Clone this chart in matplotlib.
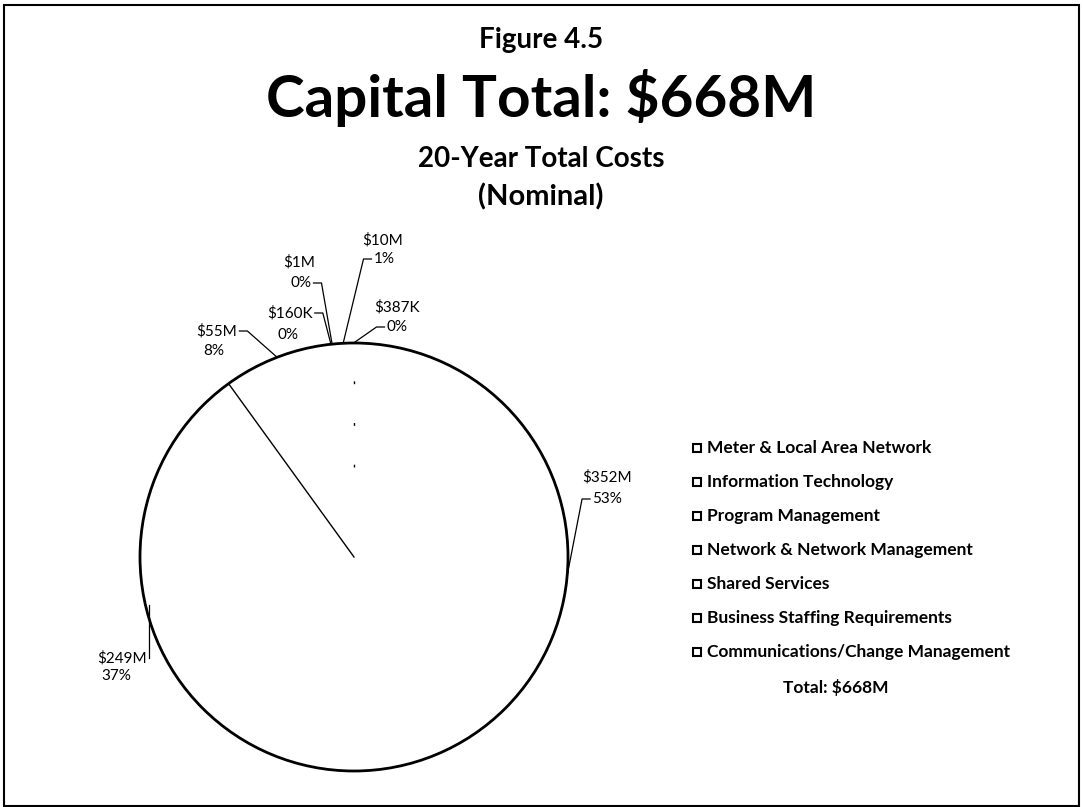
import numpy as np
import matplotlib
matplotlib.use("Agg")
import matplotlib.pyplot as plt
from matplotlib.patches import Rectangle

plt.rcParams['font.family'] = ['Lato', 'DejaVu Sans']

categories = ["Meter & Local Area Network", "Information Technology", "Program Management",
              "Network & Network Management", "Shared Services",
              "Business Staffing Requirements", "Communications/Change Management"]
values_musd = [352, 249, 55, 0.160, 1, 10, 0.387]
value_labels = ["$352M", "$249M", "$55M", "$160K", "$1M", "$10M", "$387K"]
pct_labels = ["53%", "37%", "8%", "0%", "0%", "1%", "0%"]
total_label = "Total: $668M"

W, H = 1083, 807
fig = plt.figure(figsize=(W / 100, H / 100), dpi=100)

# pie geometry in pixels
cx, cy, r = 354, 557, 214
ax_l, ax_r, ax_b, ax_t = -1.6, 1.6, -1.06, 1.6
left_px = cx + ax_l * r
top_px = cy - ax_t * r
w_px = (ax_r - ax_l) * r
h_px = (ax_t - ax_b) * r
ax = fig.add_axes([left_px / W, 1 - (top_px + h_px) / H, w_px / W, h_px / H])

wedges, _ = ax.pie(values_musd, startangle=90, counterclock=False,
                   colors=['white'] * len(values_musd),
                   wedgeprops=dict(edgecolor='none', linewidth=0))
ax.set_xlim(ax_l, ax_r)
ax.set_ylim(ax_b, ax_t)
ax.set_aspect('equal')
ax.axis('off')

# outer outline
circ = plt.Circle((0, 0), 1.0, fill=False, edgecolor='black', linewidth=2.0, zorder=3)
ax.add_patch(circ)
# visible slice boundaries (as in the scanned original)
a = np.deg2rad(wedges[1].theta1)  # boundary between IT and Program Management
ax.plot([0, np.cos(a)], [0, np.sin(a)], color='black', lw=1.0, zorder=3)
a = np.deg2rad(wedges[0].theta2)  # start of first slice (top)
ax.plot([0, np.cos(a)], [0.42, 0.85], color='black', lw=1.0, ls=(0, (2, 28)), zorder=3)

def px2data(x, y):
    return (x - cx) / r, (cy - y) / r

# label layout: centers of the two lines (px), which line the leader attaches to, and side
label_layout = [
    ((607, 477), (607, 499), 1, 'left'),
    ((122, 658), (116, 676), 0, 'right_up'),
    ((217, 331), (214, 351), 0, 'right'),
    ((290, 313), (288, 335), 0, 'right'),
    ((299, 262), (301, 283), 1, 'right'),
    ((383, 240), (384, 259), 1, 'left'),
    ((397, 307), (397, 327), 1, 'left'),
]
renderer = fig.canvas.get_renderer()
for i, w in enumerate(wedges):
    (x1, y1), (x2, y2), att, side = label_layout[i]
    t1 = ax.text(*px2data(x1, y1), value_labels[i], ha='center', va='center', fontsize=11)
    t2 = ax.text(*px2data(x2, y2), pct_labels[i], ha='center', va='center', fontsize=11)
    ang = np.deg2rad((w.theta1 + w.theta2) / 2)
    tip = (np.cos(ang), np.sin(ang))
    t = [t1, t2][att]
    bb = t.get_window_extent(renderer).transformed(ax.transData.inverted())
    ymid = (bb.y0 + bb.y1) / 2
    if side == 'left':
        p0 = (bb.x0 - 2 / r, ymid)
        p1 = (bb.x0 - 10 / r, ymid)
        pts = [p0, p1, tip]
    elif side == 'right':
        p0 = (bb.x1 + 2 / r, ymid)
        p1 = (bb.x1 + 10 / r, ymid)
        pts = [p0, p1, tip]
    else:  # right_up: vertical leader from text level up to the slice
        p0 = (bb.x1 + 2 / r, ymid)
        pts = [p0, (p0[0], tip[1])]
    xs, ys = zip(*pts)
    ax.plot(xs, ys, color='black', lw=0.9, zorder=4)

# legend
leg_x_marker = 697
leg_x_text = 707
leg_y0 = 448
leg_dy = 34
for i, cat in enumerate(categories):
    y = leg_y0 + i * leg_dy
    fig.patches.append(Rectangle(((leg_x_marker - 4) / W, 1 - (y + 4) / H), 8 / W, 8 / H,
                                 transform=fig.transFigure, facecolor='white',
                                 edgecolor='black', linewidth=1.5))
    fig.text(leg_x_text / W, 1 - y / H, cat, ha='left', va='center',
             fontsize=12.5, fontweight='bold')
fig.text(836 / W, 1 - 687 / H, total_label, ha='center', va='center',
         fontsize=12.5, fontweight='bold')

# titles (baseline positions)
fig.text(541 / W, 1 - 48 / H, "Figure 4.5", ha='center', va='baseline', fontsize=20, fontweight='bold')
fig.text(541 / W, 1 - 117 / H, "Capital Total: $668M", ha='center', va='baseline', fontsize=42, fontweight='bold')
fig.text(541 / W, 1 - 167 / H, "20-Year Total Costs", ha='center', va='baseline', fontsize=20, fontweight='bold')
fig.text(541 / W, 1 - 205 / H, "(Nominal)", ha='center', va='baseline', fontsize=21, fontweight='bold')

# frame
fig.patches.append(Rectangle((4 / W, 1 - 806 / H), 1075 / W, 801 / H, transform=fig.transFigure,
                             fill=False, edgecolor='black', linewidth=1.5))

fig.savefig("out.png", dpi=100)
